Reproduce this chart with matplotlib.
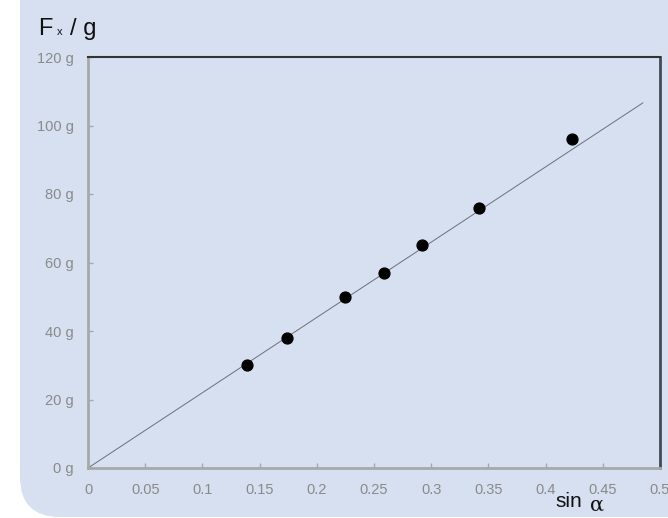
import matplotlib
matplotlib.use("Agg")
import matplotlib.pyplot as plt
from matplotlib.patches import FancyBboxPatch
from matplotlib.transforms import IdentityTransform
from matplotlib import font_manager

sin_alpha = [0.139, 0.174, 0.225, 0.259, 0.292, 0.342, 0.423]
force_g = [30, 38, 50, 57, 65, 76, 96]
trend_x = [0.0, 0.485]
trend_y = [0.0, 106.6]
x_ticks = [0, 0.05, 0.1, 0.15, 0.2, 0.25, 0.3, 0.35, 0.4, 0.45, 0.5]
x_tick_labels = ["0", "0.05", "0.1", "0.15", "0.2", "0.25", "0.3", "0.35", "0.4", "0.45", "0.5"]
y_ticks = [0, 20, 40, 60, 80, 100, 120]
y_tick_labels = ["0 g", "20 g", "40 g", "60 g", "80 g", "100 g", "120 g"]

names = {f.name for f in font_manager.fontManager.ttflist}
if "Liberation Sans Narrow" in names:
    tick_font = "Liberation Sans Narrow"
    tick_size = 11.5
else:
    tick_font = "Liberation Sans"
    tick_size = 10.5

W, H = 668, 518
fig = plt.figure(figsize=(W / 100, H / 100), dpi=100)
fig.patch.set_facecolor("white")

panel = FancyBboxPatch((20, 1), 760, 560, boxstyle="round,pad=0,rounding_size=40",
                       transform=IdentityTransform(), facecolor="#d6e0f0",
                       edgecolor="none", zorder=-5)
fig.patches.append(panel)

ax = fig.add_axes([88 / W, 1 - 468 / H, (660 - 88) / W, (468 - 57) / H])
ax.set_zorder(2)
ax.set_facecolor("none")

ax.plot(trend_x, trend_y, color="#6a6f7a", lw=0.7, zorder=2)
ax.plot(sin_alpha, force_g, "o", color="black", markersize=7.8, zorder=3)

ax.set_xlim(0, 0.5)
ax.set_ylim(0, 120)
ax.set_xticks(x_ticks)
ax.set_xticklabels(x_tick_labels)
ax.set_yticks(y_ticks)
ax.set_yticklabels(y_tick_labels)

ax.tick_params(axis="both", direction="in", length=3.5, width=1, color="#a8a8a8",
               labelcolor="#8a8a8a", labelsize=tick_size)
ax.tick_params(axis="x", pad=11)
ax.tick_params(axis="y", pad=10)
for lab in ax.get_xticklabels() + ax.get_yticklabels():
    lab.set_fontfamily(tick_font)

ax.spines["left"].set_color("#a8a8a8")
ax.spines["bottom"].set_color("#a8a8a8")
ax.spines["left"].set_linewidth(2)
ax.spines["bottom"].set_linewidth(2)
ax.spines["top"].set_color("#333333")
ax.spines["right"].set_color("#444a55")
ax.spines["top"].set_linewidth(1.5)
ax.spines["right"].set_linewidth(2)

title_font = "Liberation Sans"
fig.text(38 / W, 1 - 35 / H, "F", fontsize=17, color="#111111", va="baseline", ha="left",
         family=title_font)
fig.text(57 / W, 1 - 35 / H, "x", fontsize=8, color="#111111", va="baseline", ha="left",
         family=title_font)
fig.text(70 / W, 1 - 35 / H, "/ g", fontsize=17, color="#111111", va="baseline", ha="left",
         family=title_font)

fig.text(555 / W, 1 - 507 / H, "sin", fontsize=15, color="#111111", va="baseline", ha="left",
         family=title_font)
fig.text(590 / W, 1 - 511 / H, "α", fontsize=15, color="#111111", va="baseline", ha="left",
         family="DejaVu Serif")

fig.savefig("out.png", dpi=100, facecolor=fig.get_facecolor())
